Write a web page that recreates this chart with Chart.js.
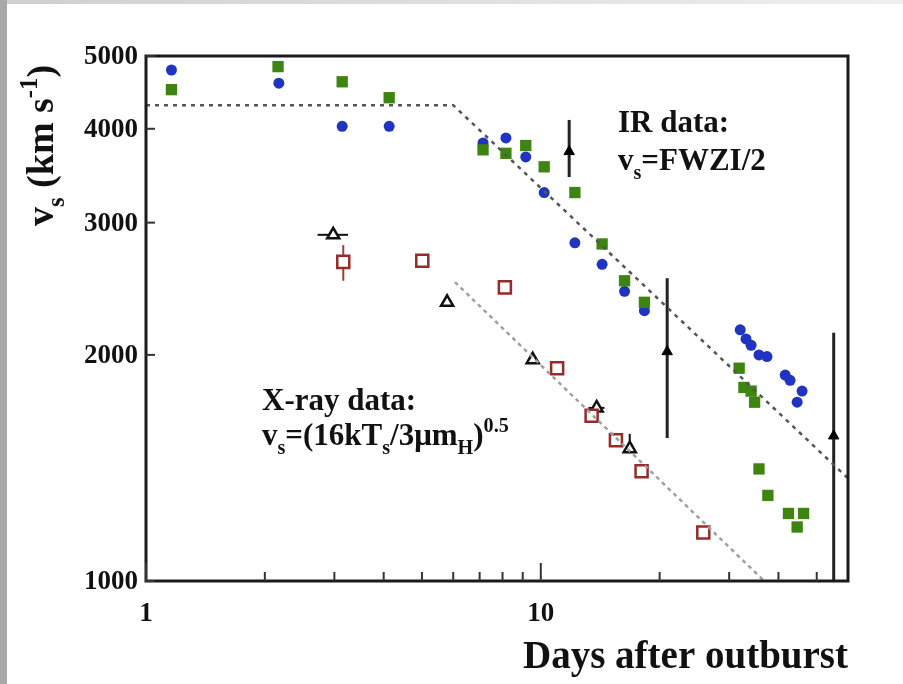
<!DOCTYPE html>
<html lang="en">
<head>
    <meta charset="UTF-8">
    <title>Shock velocity vs days after outburst</title>
    <script src="https://cdn.jsdelivr.net/npm/chart.js"></script>
    <style>
        body { margin: 0; background: #fff; }
        .chart-box { position: relative; width: 903px; height: 684px; }
    </style>
</head>
<body>
    <div class="chart-box">
        <canvas id="vsChart"></canvas>
    </div>
    <script>
        // axis ranges and tick labels
        const xMin = 1, xMax = 60;
        const yMin = 1000, yMax = 5000;
        const xTickLabels = [1, 10];
        const xMinorTicks = [2, 3, 4, 5, 6, 7, 8, 9, 20, 30, 40, 50];
        const yTickLabels = [1000, 2000, 3000, 4000, 5000];

        // IR data (blue circles)
        const irBlueDays = [1.16, 2.17, 3.14, 4.13, 7.14, 8.16, 9.16, 10.2, 12.2, 14.3, 16.3, 18.3,
                            32.0, 33.1, 34.1, 35.7, 37.4, 41.6, 42.8, 45.9, 44.6];
        const irBlueVs = [4790, 4600, 4030, 4030, 3830, 3890, 3670, 3290, 2820, 2640, 2430, 2290,
                          2160, 2100, 2060, 2000, 1990, 1880, 1850, 1790, 1730];

        // IR data (green squares)
        const irGreenDays = [1.16, 2.16, 3.14, 4.13, 7.14, 8.16, 9.16, 10.2, 12.2, 14.3, 16.3, 18.3,
                             31.8, 32.7, 34.1, 34.8, 35.7, 37.6, 42.4, 46.3, 44.6];
        const irGreenVs = [4510, 4840, 4620, 4400, 3750, 3710, 3800, 3560, 3290, 2810, 2510, 2350,
                           1920, 1810, 1790, 1730, 1410, 1300, 1230, 1230, 1180];

        // IR data with error bars (filled black triangles)
        const irErrDays = [11.8, 20.9, 55.2];
        const irErrVs = [3730, 2020, 1560];
        const irErrLow = [3450, 1550, 900];
        const irErrHigh = [4110, 2530, 2140];

        // X-ray data (red open squares)
        const xrSqDays = [3.16, 5.01, 8.11, 11.0, 13.45, 15.5, 18.0, 25.8];
        const xrSqVs = [2660, 2670, 2460, 1920, 1660, 1540, 1400, 1160];
        const xrSqLow = [2510, null, null, null, null, null, null, null];
        const xrSqHigh = [2800, null, null, null, null, null, null, null];

        // X-ray data (black open triangles)
        const xrTriDays = [2.98, 5.79, 9.54, 13.85, 16.8];
        const xrTriVs = [2890, 2350, 1970, 1700, 1500];
        const xrTriDayLow = [2.72, null, null, 13.2, null];
        const xrTriDayHigh = [3.25, null, null, 14.5, null];
        const xrTriVsLow = [null, null, null, null, 1480];
        const xrTriVsHigh = [null, null, null, null, 1570];

        // model lines
        const irModelDays = [1, 6.0, 60];
        const irModelVs = [4300, 4300, 1370];
        const xrModelDays = [6.06, 36.8];
        const xrModelVs = [2500, 1000];

        const toPts = (xs, ys) => xs.map((x, i) => ({ x: x, y: ys[i] }));
        const serif = '"Liberation Serif", "Times New Roman", serif';

        // text with sub/superscripts: parts = [[text, 0|-1|1], ...]
        function drawRich(ctx, parts, x, y, size) {
            let cx = x;
            parts.forEach(([t, lvl]) => {
                const s = lvl === 0 ? size : size * 0.65;
                const dy = lvl === -1 ? size * 0.28 : lvl === 1 ? -size * 0.42 : 0;
                ctx.font = 'bold ' + s + 'px ' + serif;
                ctx.fillText(t, cx, y + dy);
                cx += ctx.measureText(t).width;
            });
        }

        const extras = {
            id: 'extras',
            beforeDraw(chart) {
                const ctx = chart.ctx;
                ctx.save();
                ctx.fillStyle = '#fff';
                ctx.fillRect(0, 0, chart.width, chart.height);
                const g = ctx.createLinearGradient(0, 0, chart.width, 0);
                g.addColorStop(0, '#cfcfcf');
                g.addColorStop(1, '#efefef');
                ctx.fillStyle = g;
                ctx.fillRect(0, 0, chart.width, 4);
                ctx.fillStyle = '#a8a8a8';
                ctx.fillRect(0, 0, 7, chart.height);
                ctx.restore();
            },
            beforeDatasetsDraw(chart) {
                const ctx = chart.ctx;
                const xs = chart.scales.x, ys = chart.scales.y;
                const a = chart.chartArea;
                ctx.save();
                ctx.beginPath();
                ctx.rect(a.left, a.top, a.right - a.left, a.bottom - a.top);
                ctx.clip();
                // IR error bars
                ctx.strokeStyle = '#222';
                ctx.lineWidth = 3;
                irErrDays.forEach((d, i) => {
                    const px = xs.getPixelForValue(d);
                    ctx.beginPath();
                    ctx.moveTo(px, ys.getPixelForValue(irErrLow[i]));
                    ctx.lineTo(px, ys.getPixelForValue(irErrHigh[i]));
                    ctx.stroke();
                });
                // X-ray square error bars
                ctx.strokeStyle = '#a33a3a';
                ctx.lineWidth = 2;
                xrSqDays.forEach((d, i) => {
                    if (xrSqLow[i] == null) return;
                    const px = xs.getPixelForValue(d);
                    ctx.beginPath();
                    ctx.moveTo(px, ys.getPixelForValue(xrSqLow[i]));
                    ctx.lineTo(px, ys.getPixelForValue(xrSqHigh[i]));
                    ctx.stroke();
                });
                // X-ray triangle error bars
                ctx.strokeStyle = '#111';
                xrTriDays.forEach((d, i) => {
                    const py = ys.getPixelForValue(xrTriVs[i]);
                    const px = xs.getPixelForValue(d);
                    if (xrTriDayLow[i] != null) {
                        ctx.beginPath();
                        ctx.moveTo(xs.getPixelForValue(xrTriDayLow[i]), py);
                        ctx.lineTo(xs.getPixelForValue(xrTriDayHigh[i]), py);
                        ctx.stroke();
                    }
                    if (xrTriVsLow[i] != null) {
                        ctx.beginPath();
                        ctx.moveTo(px, ys.getPixelForValue(xrTriVsLow[i]));
                        ctx.lineTo(px, ys.getPixelForValue(xrTriVsHigh[i]));
                        ctx.stroke();
                    }
                });
                ctx.restore();
            },
            afterDraw(chart) {
                const ctx = chart.ctx;
                const xs = chart.scales.x, ys = chart.scales.y;
                const a = chart.chartArea;
                ctx.save();

                // frame
                ctx.strokeStyle = '#1a1a1a';
                ctx.lineWidth = 3;
                ctx.strokeRect(a.left, a.top, a.right - a.left, a.bottom - a.top);

                // inward ticks
                ctx.lineWidth = 2;
                ctx.strokeStyle = '#333';
                xMinorTicks.forEach(v => {
                    const px = xs.getPixelForValue(v);
                    ctx.beginPath();
                    ctx.moveTo(px, a.bottom);
                    ctx.lineTo(px, a.bottom - 9);
                    ctx.stroke();
                });
                xTickLabels.forEach(v => {
                    const px = xs.getPixelForValue(v);
                    ctx.beginPath();
                    ctx.moveTo(px, a.bottom);
                    ctx.lineTo(px, a.bottom - 18);
                    ctx.stroke();
                });
                yTickLabels.forEach(v => {
                    const py = ys.getPixelForValue(v);
                    ctx.beginPath();
                    ctx.moveTo(a.left, py);
                    ctx.lineTo(a.left + 9, py);
                    ctx.stroke();
                });

                // tick labels
                ctx.fillStyle = '#111';
                ctx.font = 'bold 27px ' + serif;
                ctx.textAlign = 'right';
                ctx.textBaseline = 'middle';
                yTickLabels.forEach(v => {
                    ctx.fillText(String(v), a.left - 8, ys.getPixelForValue(v) + 1);
                });
                ctx.textAlign = 'center';
                ctx.textBaseline = 'alphabetic';
                xTickLabels.forEach(v => {
                    ctx.fillText(String(v), xs.getPixelForValue(v), 621);
                });

                // axis titles
                ctx.font = 'bold 39px ' + serif;
                ctx.textAlign = 'right';
                ctx.fillText('Days after outburst', 848, 668);

                ctx.textAlign = 'left';
                ctx.save();
                ctx.translate(53, 226);
                ctx.rotate(-Math.PI / 2);
                drawRich(ctx, [['v', 0], ['s', -1], [' (km s', 0], ['-1', 1], [')', 0]], 0, 0, 38);
                ctx.restore();

                // annotations
                drawRich(ctx, [['IR data:', 0]], 618, 132, 31);
                drawRich(ctx, [['v', 0], ['s', -1], ['=FWZI/2', 0]], 618, 170, 31);
                drawRich(ctx, [['X-ray data:', 0]], 262, 410, 31);
                drawRich(ctx, [['v', 0], ['s', -1], ['=(16kT', 0], ['s', -1], ['/3\u03bcm', 0], ['H', -1], [')', 0], ['0.5', 1]], 262, 445, 31);

                ctx.restore();
            }
        };

        const ctx = document.getElementById('vsChart').getContext('2d');
        new Chart(ctx, {
            type: 'scatter',
            data: {
                datasets: [
                    {
                        label: 'IR model',
                        data: toPts(irModelDays, irModelVs),
                        showLine: true,
                        borderColor: '#555',
                        borderWidth: 2.5,
                        borderDash: [4, 5],
                        pointRadius: 0
                    },
                    {
                        label: 'X-ray model',
                        data: toPts(xrModelDays, xrModelVs),
                        showLine: true,
                        borderColor: '#a0a0a0',
                        borderWidth: 2.5,
                        borderDash: [4, 4],
                        pointRadius: 0
                    },
                    {
                        label: 'IR green',
                        data: toPts(irGreenDays, irGreenVs),
                        pointStyle: 'rect',
                        pointRadius: 8,
                        backgroundColor: '#3d8410',
                        borderColor: '#3d8410',
                        borderWidth: 0
                    },
                    {
                        label: 'IR blue',
                        data: toPts(irBlueDays, irBlueVs),
                        pointStyle: 'circle',
                        pointRadius: 5.5,
                        backgroundColor: '#1f34c0',
                        borderColor: '#1f34c0',
                        borderWidth: 0
                    },
                    {
                        label: 'IR error',
                        data: toPts(irErrDays, irErrVs),
                        pointStyle: 'triangle',
                        pointRadius: 6,
                        backgroundColor: '#000',
                        borderColor: '#000',
                        borderWidth: 1
                    },
                    {
                        label: 'X-ray squares',
                        data: toPts(xrSqDays, xrSqVs),
                        pointStyle: 'rect',
                        pointRadius: 8.5,
                        backgroundColor: '#fff',
                        borderColor: '#962b2b',
                        borderWidth: 2.5
                    },
                    {
                        label: 'X-ray triangles',
                        data: toPts(xrTriDays, xrTriVs),
                        pointStyle: 'triangle',
                        pointRadius: 7,
                        backgroundColor: '#fff',
                        borderColor: '#111',
                        borderWidth: 2.5
                    }
                ]
            },
            options: {
                responsive: true,
                maintainAspectRatio: false,
                animation: false,
                layout: { padding: { left: 146, right: 55, top: 56, bottom: 103 } },
                plugins: {
                    legend: { display: false },
                    tooltip: { enabled: false }
                },
                scales: {
                    x: { type: 'logarithmic', min: xMin, max: xMax, display: false },
                    y: { type: 'logarithmic', min: yMin, max: yMax, display: false }
                }
            },
            plugins: [extras]
        });
    </script>
</body>
</html>
